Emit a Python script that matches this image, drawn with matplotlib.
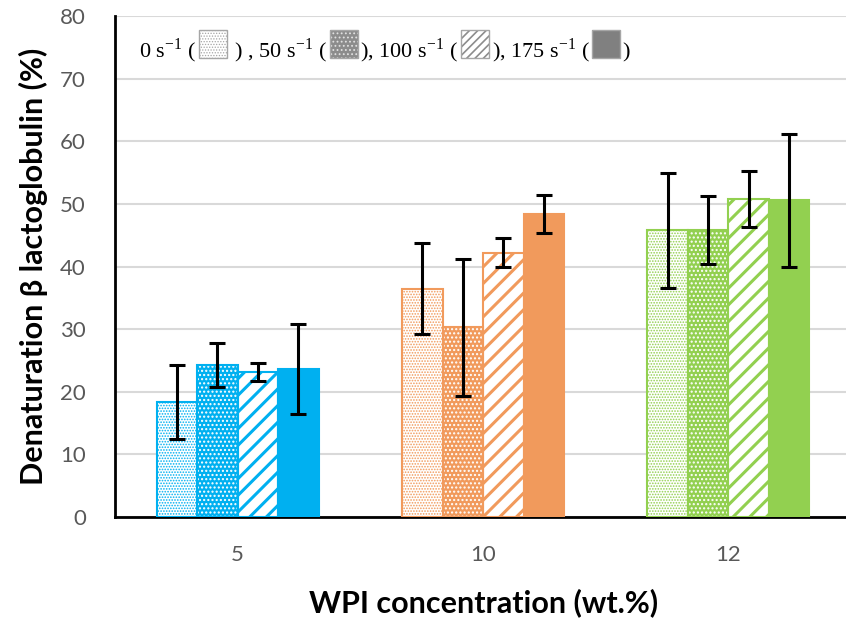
import numpy as np
import matplotlib
matplotlib.use('Agg')
import matplotlib.pyplot as plt
from matplotlib.patches import Rectangle
from matplotlib.offsetbox import TextArea, DrawingArea, HPacker, AnchoredOffsetbox

# data
categories = ['5', '10', '12']
rates = ['0', '50', '100', '175']
mean_0 = [18.4, 36.5, 45.8]
mean_50 = [24.3, 30.3, 45.8]
mean_100 = [23.2, 42.2, 50.8]
mean_175 = [23.6, 48.4, 50.6]
err_0 = [5.9, 7.2, 9.2]
err_50 = [3.5, 10.9, 5.4]
err_100 = [1.4, 2.3, 4.5]
err_175 = [7.2, 3.0, 10.6]
colors = ['#00B0F0', '#F19A5C', '#92D050']

means = [mean_0, mean_50, mean_100, mean_175]
errs = [err_0, err_50, err_100, err_175]

plt.rcParams['mathtext.fontset'] = 'custom'
plt.rcParams['mathtext.rm'] = 'Liberation Serif'

fig = plt.figure(figsize=(8.46, 6.24), dpi=100)
ax = fig.add_axes([0.136, 0.1715, 0.87, 0.8025])

x = np.arange(len(categories))
w = 0.165
offs = (np.arange(4) - 1.5) * w


def hbar(xp, h, face, hcol, hatch, hlw):
    with plt.rc_context({'hatch.linewidth': hlw}):
        b = ax.bar(xp, h, w, color=face, edgecolor=hcol, hatch=hatch, linewidth=0, zorder=2)
    for p in b:
        if hasattr(p, 'set_hatch_linewidth'):
            p.set_hatch_linewidth(hlw)
    return b


for i in range(len(categories)):
    c = colors[i]
    for j in range(4):
        xp = x[i] + offs[j]
        h = means[j][i]
        if j == 0:
            hbar(xp, h, 'white', c, '......', 0.8)
        elif j == 1:
            hbar(xp, h, c, 'white', '....', 1.0)
        elif j == 2:
            hbar(xp, h, 'white', c, '//', 2.2)
        else:
            ax.bar(xp, h, w, color=c, linewidth=0, zorder=2)
        ax.bar(xp, h, w, fill=False, edgecolor=c, linewidth=1.5, zorder=3)
        ax.errorbar(xp, h, yerr=errs[j][i], fmt='none', ecolor='black',
                    elinewidth=2.2, capsize=6, capthick=2.2, zorder=4)

ax.set_xlim(-0.5, 2.5)
ax.set_ylim(0, 80)
ax.set_yticks(np.arange(0, 81, 10))
ax.set_xticks(x)
ax.set_xticklabels(categories)
ax.tick_params(length=0, labelsize=16, labelcolor='#595959')
ax.tick_params(axis='y', pad=21)
ax.tick_params(axis='x', pad=20)
for lab in ax.get_xticklabels() + ax.get_yticklabels():
    lab.set_family('Lato')
ax.yaxis.grid(True, color='#d9d9d9', linewidth=1.5, zorder=0)
ax.set_axisbelow(True)
for s in ['top', 'right']:
    ax.spines[s].set_visible(False)
for s in ['left', 'bottom']:
    ax.spines[s].set_linewidth(2)
ax.set_ylabel('Denaturation β lactoglobulin (%)', fontsize=22, fontweight='bold',
              family='Lato', labelpad=9)
ax.set_xlabel('WPI concentration (wt.%)', fontsize=22, fontweight='bold',
              family='Lato', labelpad=17)

# legend made of text pieces and small gray boxes
tprops = dict(fontsize=16, family='Liberation Serif')


def box(face, hcol, hatch, hlw):
    da = DrawingArea(22, 20, 0, -4)
    with plt.rc_context({'hatch.linewidth': hlw}):
        r = Rectangle((1, 0), 20, 20, facecolor=face, edgecolor=hcol, hatch=hatch, linewidth=0)
    if hasattr(r, 'set_hatch_linewidth'):
        r.set_hatch_linewidth(hlw)
    da.add_artist(r)
    da.add_artist(Rectangle((1, 0), 20, 20, fill=False, edgecolor='#a6a6a6', linewidth=1))
    return da


sup = r'$^{\mathregular{-1}}$'
pieces = [
    TextArea('0 s' + sup + ' (', textprops=tprops),
    box('white', '#a6a6a6', '......', 0.6),
    TextArea(' ) , 50 s' + sup + ' (', textprops=tprops),
    box('#8c8c8c', '#e0e0e0', '....', 0.8),
    TextArea('), 100 s' + sup + ' (', textprops=tprops),
    box('white', '#8c8c8c', '////', 1.2),
    TextArea('), 175 s' + sup + ' (', textprops=tprops),
    box('#808080', '#808080', None, 0),
    TextArea(')', textprops=tprops),
]
pack = HPacker(children=pieces, align='baseline', pad=0, sep=1)
anch = AnchoredOffsetbox(loc='upper left', child=pack, frameon=False,
                         bbox_to_anchor=(0.025, 0.995), bbox_transform=ax.transAxes,
                         borderpad=0)
ax.add_artist(anch)

fig.savefig('out.png', dpi=100)
